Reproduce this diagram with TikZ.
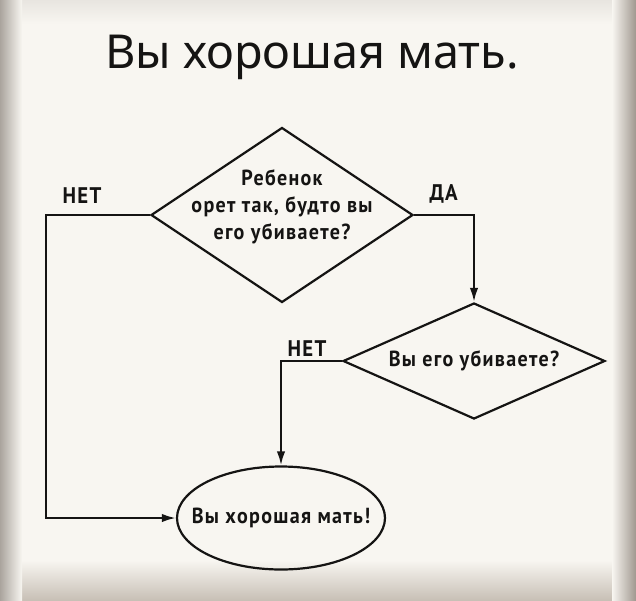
\documentclass[tikz,border=0pt]{standalone}
\usepackage{fontspec}
\setmainfont{Noto Sans}
\newfontfamily\condfont[FakeStretch=0.92, LetterSpace=6]{PT Sans}
\usetikzlibrary{shapes.geometric,arrows.meta,positioning}
\definecolor{paper}{HTML}{F8F6F1}
\definecolor{edgeT}{HTML}{E8E5E0}
\definecolor{edgeB}{HTML}{C8C0B6}
\definecolor{edgeL}{HTML}{AAA49D}
\definecolor{edgeR}{HTML}{A0978F}
\definecolor{ink}{HTML}{151413}
\tikzset{>={Latex[length=7pt,width=4.2pt]}}
\tikzset{
  title/.style={text=ink, inner sep=0pt, font=\fontsize{23.4}{28}\selectfont},
  decision/.style={diamond, draw=ink, line width=1.1pt, inner sep=0pt, minimum width=131pt},
  terminal/.style={ellipse, draw=ink, line width=1.1pt, inner sep=0pt, minimum width=104pt, minimum height=51.5pt},
  qtext/.style={text=ink, align=center, inner sep=0pt, font=\condfont\bfseries\fontsize{10.9}{13.5}\selectfont},
  answer/.style={text=ink, inner sep=0pt, font=\condfont\bfseries\fontsize{11.3}{12}\selectfont},
  flow/.style={->, draw=ink, line width=1.1pt}
}

\begin{document}
\begin{tikzpicture}[x=0.5pt, y=-0.5pt]

  % Background
  \useasboundingbox (0,0) rectangle (636,600);
  \fill[paper] (0,0) rectangle (636,600);
  \shade[top color=edgeT, bottom color=paper] (0,0) rectangle (636,24);
  \shade[top color=paper, bottom color=edgeB] (0,560) rectangle (636,600);
  \shade[left color=edgeL, right color=paper] (0,0) rectangle (22,600);
  \shade[left color=paper, right color=edgeR] (612,0) rectangle (636,600);

  % Title
  \node[title, anchor=base] (title) at (312,68) {Вы хорошая мать.};

  % Nodes
  \node[decision, minimum height=87.5pt] (q1) at (282,215) {};
  \node[qtext, yshift=4pt] (q1text) at (q1) {Ребенок\\орет так, будто вы\\его убиваете?};
  \node[decision, minimum height=58pt] (q2) at (474,361) {};
  \node[qtext] (q2text) at (q2) {Вы его убиваете?};
  \node[terminal] (mom) at (281,518) {};
  \node[qtext] (momtext) at (mom) {Вы хорошая мать!};

  % Labels
  \node[answer, above left=5.5pt and 24pt of q1.west] (no1) {НЕТ};
  \node[answer, above right=5.5pt and 7.5pt of q1.east] (yes1) {ДА};
  \node[answer, above left=2pt and 7.5pt of q2.west] (no2) {НЕТ};

  % Edges
  \draw[flow] (q1.west) -- ++(-104,0) |- (mom.west);
  \draw[flow] (q1.east) -| (q2.north);
  \draw[flow] (q2.west) -| (mom.north);

\end{tikzpicture}
\end{document}
